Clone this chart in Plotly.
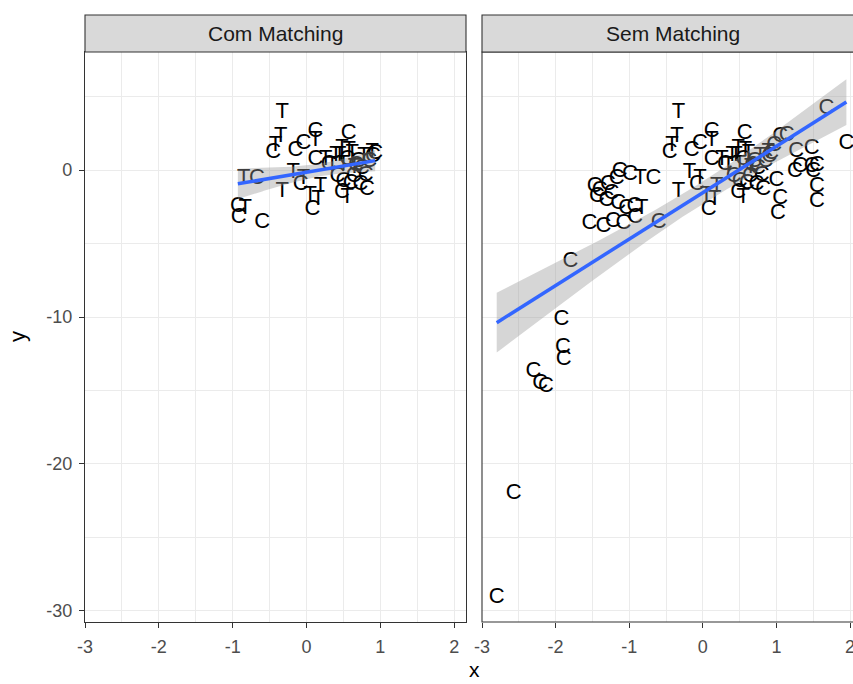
import numpy as np
import plotly.graph_objects as go

# Matched sample: treated (T) and matched controls (C); appears in both panels
matched_x = [-0.33, -0.35, -0.42, -0.45, -0.15, 0.12, 0.12, 0.57, 0.93, 0.89,
             0.48, -0.04, -0.85, -0.67, -0.18, -0.33, -0.04, -0.08, 0.05, 0.08,
             -0.93, -0.92, -0.83, -0.60, 0.42, 0.50, 0.64, 0.73, 0.82, 0.55,
             0.48, 0.80, 0.19, 0.16, 0.12, 0.26, 0.35, 0.30, 0.40, 0.75,
             0.65, 0.60, 0.45, 0.55, 0.62, 0.70, 0.78, 0.85, 0.90, 0.50,
             0.67, 0.58]
matched_y = [3.9, 2.3, 1.65, 1.2, 1.35, 2.6, 2.0, 2.5, 1.15, 1.2,
             1.45, 1.8, -0.55, -0.6, -0.2, -1.45, -0.55, -1.0, -1.7, -2.7,
             -2.5, -3.2, -2.6, -3.6, -0.45, -0.8, -0.45, -1.0, -1.35, -1.9,
             -1.5, -0.35, -1.1, -2.0, 0.7, 0.7, 0.3, 0.4, 1.0, 0.1,
             0.2, -0.9, 1.0, 0.7, 1.1, 0.6, 0.9, 0.6, 0.9, 0.4,
             0.3, 1.3]
matched_grp = ["T", "T", "T", "C", "C", "C", "T", "C", "C", "T",
               "T", "C", "T", "C", "T", "T", "T", "C", "T", "C",
               "C", "C", "T", "C", "C", "C", "C", "C", "C", "T",
               "C", "C", "T", "T", "C", "T", "T", "C", "T", "C",
               "T", "C", "T", "C", "T", "C", "T", "C", "C", "T",
               "C", "T"]

# Controls discarded by the matching; only in the unmatched panel
extra_x = [-2.80, -2.57, -2.30, -2.21, -2.13, -1.92, -1.90, -1.89, -1.80,
           -1.47, -1.40, -1.29, -1.17, -1.13, -1.44, -1.31, -1.24, -1.15, -1.04,
           -1.54, -1.35, -1.22, -1.08, -0.99,
           1.68, 1.95, 1.48, 1.27, 1.05, 1.14, 0.97, 1.25, 1.32, 1.48,
           1.55, 1.50, 1.55, 1.55, 1.00, 1.05, 1.02]
extra_y = [-29.05, -22.0, -13.7, -14.55, -14.7, -10.2, -12.05, -12.9, -6.2,
           -1.15, -1.4, -1.0, -0.55, -0.1, -1.8, -2.05, -1.6, -2.3, -2.6,
           -3.65, -3.85, -3.5, -3.65, -0.3,
           4.2, 1.82, 1.48, 1.25, 2.25, 2.38, 1.7, -0.12, 0.23, 0.23,
           0.34, -0.12, -1.14, -2.16, -0.7, -1.93, -2.95]
extra_grp = ["C"] * len(extra_x)

panel_titles = ["Com Matching", "Sem Matching"]
x_ticks = [-3, -2, -1, 0, 1, 2]
y_ticks = [-30, -20, -10, 0]

W, H = 853, 684
FONT = "Liberation Sans, Arial, Helvetica, sans-serif"
BORDER = "#333333"
GRID = "#EBEBEB"


def px_x(p):
    return p / W


def px_y(p):
    return 1 - p / H


def t975(df):
    # Cornish-Fisher expansion of the Student t 97.5% quantile
    z = 1.959964
    g1 = (z ** 3 + z) / 4
    g2 = (5 * z ** 5 + 16 * z ** 3 + 3 * z) / 96
    g3 = (3 * z ** 7 + 19 * z ** 5 + 17 * z ** 3 - 15 * z) / 384
    return z + g1 / df + g2 / df ** 2 + g3 / df ** 3


def lm_band(x, y, n_out=80):
    x = np.asarray(x, float)
    y = np.asarray(y, float)
    n = len(x)
    b1, b0 = np.polyfit(x, y, 1)
    resid = y - (b0 + b1 * x)
    s = np.sqrt(np.sum(resid ** 2) / (n - 2))
    mx = x.mean()
    sxx = np.sum((x - mx) ** 2)
    xs = np.linspace(x.min(), x.max(), n_out)
    fit = b0 + b1 * xs
    se = s * np.sqrt(1 / n + (xs - mx) ** 2 / sxx)
    t = t975(n - 2)
    return xs, fit, fit - t * se, fit + t * se


fig = go.Figure()

panels = [
    (matched_x, matched_y, matched_grp, "x", "y"),
    (matched_x + extra_x, matched_y + extra_y, matched_grp + extra_grp, "x2", "y2"),
]

for xs_d, ys_d, grp, xa, ya in panels:
    fig.add_trace(go.Scatter(
        x=xs_d, y=ys_d, text=grp, mode="text", xaxis=xa, yaxis=ya,
        textposition="middle center",
        textfont=dict(family=FONT, size=22, color="#000000"),
        showlegend=False, hoverinfo="skip"))
    xs, fit, lo, hi = lm_band(xs_d, ys_d)
    fig.add_trace(go.Scatter(
        x=np.concatenate([xs, xs[::-1]]), y=np.concatenate([hi, lo[::-1]]),
        mode="lines", fill="toself", fillcolor="rgba(153,153,153,0.4)",
        line=dict(width=0), xaxis=xa, yaxis=ya, showlegend=False,
        hoverinfo="skip"))
    fig.add_trace(go.Scatter(
        x=xs, y=fit, mode="lines", line=dict(color="#3366FF", width=3.5),
        xaxis=xa, yaxis=ya, showlegend=False, hoverinfo="skip"))

y_dom = [px_y(622), px_y(52)]
left_dom = [px_x(85), px_x(466)]
right_dom = [px_x(482), 1.0]

grid_common = dict(
    showgrid=True, gridcolor=GRID, gridwidth=1.1, zeroline=False,
    ticks="outside", ticklen=5, tickwidth=1.1, tickcolor=BORDER,
    tickfont=dict(family=FONT, size=18, color="#4D4D4D"),
    automargin=False, ticklabeloverflow="allow",
)

fig.update_layout(
    width=W, height=H,
    margin=dict(l=0, r=0, t=0, b=0, autoexpand=False),
    paper_bgcolor="white", plot_bgcolor="white",
    xaxis=dict(domain=left_dom, range=[-3.0, 2.16], anchor="y",
               tickvals=x_ticks, ticktext=[str(v) for v in x_ticks],
               ticklabelstandoff=3,
               minor=dict(dtick=0.5, tick0=-3, showgrid=True, gridcolor=GRID,
                          gridwidth=0.55, ticks=""),
               showline=True, mirror=True, linecolor=BORDER, linewidth=1.1,
               **grid_common),
    yaxis=dict(domain=y_dom, range=[-30.75, 8.03], anchor="x",
               tickvals=y_ticks, ticktext=[str(v) for v in y_ticks],
               ticklabelstandoff=3,
               minor=dict(dtick=5, tick0=0, showgrid=True, gridcolor=GRID,
                          gridwidth=0.55, ticks=""),
               showline=True, mirror=True, linecolor=BORDER, linewidth=1.1,
               **grid_common),
    xaxis2=dict(domain=right_dom, range=[-3.0, 2.04], anchor="y2",
                tickvals=x_ticks, ticktext=[str(v) for v in x_ticks],
                ticklabelstandoff=3,
                minor=dict(dtick=0.5, tick0=-3, showgrid=True, gridcolor=GRID,
                           gridwidth=0.55, ticks=""),
                showline=False, **grid_common),
    yaxis2=dict(domain=y_dom, range=[-30.75, 8.03], anchor="x2",
                tickvals=y_ticks, showticklabels=False,
                minor=dict(dtick=5, tick0=0, showgrid=True, gridcolor=GRID,
                           gridwidth=0.55, ticks=""),
                showline=False, showgrid=True, gridcolor=GRID, gridwidth=1.1,
                zeroline=False, ticks="", automargin=False),
)

shapes = []
# right panel frame (continues past the right edge of the page)
shapes.append(dict(type="rect", xref="paper", yref="paper",
                   x0=px_x(482), x1=1.05, y0=y_dom[0], y1=y_dom[1],
                   line=dict(color=BORDER, width=1.1), fillcolor="rgba(0,0,0,0)",
                   layer="above"))
# facet strips
strip_y = [px_y(52), px_y(15)]
for x0, x1 in [(85, 466), (482, 900)]:
    shapes.append(dict(type="rect", xref="paper", yref="paper",
                       x0=px_x(x0), x1=px_x(x1), y0=strip_y[0], y1=strip_y[1],
                       line=dict(color=BORDER, width=1.1), fillcolor="#D9D9D9",
                       layer="above"))
fig.update_layout(shapes=shapes)

annotations = []
for title, cx in zip(panel_titles, [(85 + 466) / 2, (482 + 863) / 2]):
    annotations.append(dict(text=title, xref="paper", yref="paper",
                            x=px_x(cx), y=px_y(33.5), showarrow=False,
                            xanchor="center", yanchor="middle",
                            font=dict(family=FONT, size=21, color="#1A1A1A")))
annotations.append(dict(text="x", xref="paper", yref="paper",
                        x=px_x(474), y=px_y(669), showarrow=False,
                        xanchor="center", yanchor="middle",
                        font=dict(family=FONT, size=21, color="#000000")))
annotations.append(dict(text="y", xref="paper", yref="paper",
                        x=px_x(17), y=px_y(337), showarrow=False, textangle=-90,
                        xanchor="center", yanchor="middle",
                        font=dict(family=FONT, size=22, color="#000000")))
fig.update_layout(annotations=annotations)

fig.write_html("out.html")
